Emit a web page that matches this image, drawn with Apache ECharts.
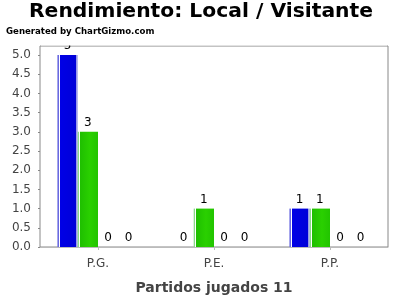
<!DOCTYPE html>
<html>
<head>
<meta charset="utf-8">
<script src="https://cdn.jsdelivr.net/npm/echarts@6/dist/echarts.min.js"></script>
<style>html,body{margin:0;padding:0;background:#fff}#c{width:400px;height:300px}</style>
</head>
<body>
<div id="c"></div>
<script>
var categories = ['P.G.', 'P.E.', 'P.P.'];
var serie1 = [5, 0, 1];
var serie2 = [3, 1, 1];
var serie3 = [0, 0, 0];
var serie4 = [0, 0, 0];
var yTicks = [0, 0.5, 1, 1.5, 2, 2.5, 3, 3.5, 4, 4.5, 5];

var chart = echarts.init(document.getElementById('c'), null, {renderer: 'canvas'});
function grad(stops) {
  return new echarts.graphic.LinearGradient(0, 0, 1, 0, stops);
}
var blue = grad([
  {offset: 0, color: '#6a6ae0'}, {offset: 0.06, color: '#6a6ae0'},
  {offset: 0.06, color: '#ffffff'}, {offset: 0.12, color: '#ffffff'},
  {offset: 0.12, color: '#0000e6'}, {offset: 0.94, color: '#0000d8'},
  {offset: 0.94, color: '#9a9ae8'}, {offset: 1, color: '#9a9ae8'}
]);
var green = grad([
  {offset: 0, color: '#8ad88a'}, {offset: 0.06, color: '#8ad88a'},
  {offset: 0.06, color: '#ffffff'}, {offset: 0.12, color: '#ffffff'},
  {offset: 0.12, color: '#1fbf00'}, {offset: 0.6, color: '#2ad000'}, {offset: 1, color: '#22c400'}
]);
var labelCfg = {show: true, position: 'top', distance: 3, color: '#000', fontFamily: 'DejaVu Sans', fontSize: 12};
function mk(data, color) {
  return {type: 'bar', data: data, barGap: '0%', barCategoryGap: '30%', itemStyle: {color: color}, label: labelCfg, animation: false};
}
chart.setOption({
  animation: false,
  title: [
    {text: 'Rendimiento: Local / Visitante', left: 201, top: 2, textAlign: 'center', padding: 0,
     textStyle: {fontFamily: 'DejaVu Sans', fontWeight: 'bold', fontSize: 20.3, color: '#000'}},
    {text: 'Generated by ChartGizmo.com', left: 6, top: 27, padding: 0,
     textStyle: {fontFamily: 'DejaVu Sans', fontWeight: 'bold', fontSize: 8.6, color: '#000'}}
  ],
  graphic: [{
    type: 'rect', z: 1000, silent: true,
    shape: {x: 41, y: 37, width: 346, height: 8.5},
    style: {fill: '#fff'}
  }],
  grid: {left: 40, right: 12, top: 46, bottom: 53, show: true, borderColor: '#888', borderWidth: 1, backgroundColor: '#fff'},
  xAxis: {
    type: 'category', data: categories, offset: 4,
    axisLine: {show: true, lineStyle: {color: '#bbb'}},
    axisTick: {show: true, alignWithLabel: true, length: 3, lineStyle: {color: '#bbb'}},
    axisLabel: {color: '#444', fontFamily: 'DejaVu Sans', fontSize: 12, margin: 7},
    name: 'Partidos jugados 11', nameLocation: 'middle', nameGap: 30,
    nameTextStyle: {color: '#444', fontFamily: 'DejaVu Sans', fontSize: 14, fontWeight: 'bold'}
  },
  yAxis: {
    type: 'value', min: 0, max: 5.234, interval: 0.5,
    axisLine: {show: false},
    axisTick: {show: true, length: 2, lineStyle: {color: '#888'}},
    splitLine: {show: false},
    axisLabel: {color: '#444', fontFamily: 'DejaVu Sans', fontSize: 12, margin: 9, showMaxLabel: false,
      formatter: function (v) { return yTicks.indexOf(v) >= 0 ? v.toFixed(1) : ''; }}
  },
  series: [mk(serie1, blue), mk(serie2, green), mk(serie3, '#dd0000'), mk(serie4, '#dddd00')]
});
</script>
</body>
</html>
